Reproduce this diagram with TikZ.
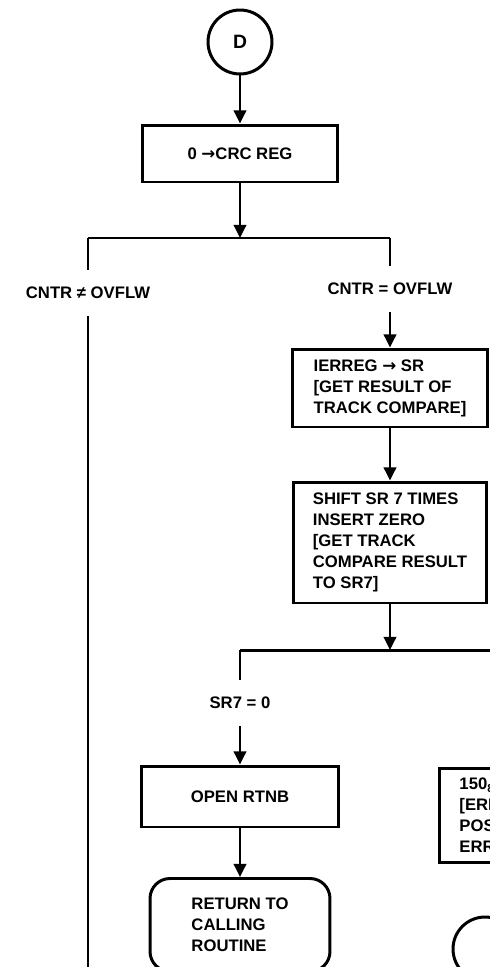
\documentclass[tikz,border=0pt]{standalone}
\usepackage{fontspec}
\setmainfont{Liberation Sans}
\newfontfamily\arrowfont{DejaVu Sans}
\usepackage{tikz}
\usetikzlibrary{arrows.meta,positioning}

\begin{document}
\begin{tikzpicture}[x=0.02cm, y=-0.02cm, line width=1.7pt,
  every node/.style={font=\fontsize{9.5}{12}\selectfont\bfseries},
  box/.style={draw, rectangle, align=left},
  term/.style={draw, rectangle, rounded corners=0.4cm, align=left},
  conn/.style={draw, circle, minimum size=1.28cm, inner sep=0pt},
  lbl/.style={inner xsep=2pt, inner ysep=0.32cm},
  flow/.style={-{Triangle[length=7.5pt, width=7pt]}}]
  \useasboundingbox (0,0) rectangle (490,967);
  \clip (0,0) rectangle (490,967);
  \node[conn, font=\fontsize{11}{13}\selectfont\bfseries] (d) at (240,42) {D};
  \node[box, minimum width=3.92cm, minimum height=1.14cm] (crc) at (240,153.5)
    {0 {\arrowfont →}CRC REG};
  \coordinate (br1) at (240,238);
  \coordinate (br1l) at (88,238);
  \coordinate (br1r) at (390,238);
  \node[lbl] (cne) at (88,293) {CNTR ≠ OVFLW};
  \node[lbl] (ceq) at (390,289) {CNTR = OVFLW};
  \coordinate (lout) at (88,990);
  \node[box, minimum width=3.92cm, minimum height=1.56cm] (erreg) at (390,388)
    {IERREG {\arrowfont →} SR\\{[}GET RESULT OF\\TRACK COMPARE{]}};
  \node[box, minimum width=3.88cm, minimum height=2.42cm] (shift) at (390,542.5)
    {SHIFT SR 7 TIMES\\INSERT ZERO\\{[}GET TRACK\\COMPARE RESULT\\TO SR7{]}};
  \coordinate (br2) at (390,650);
  \coordinate (br2l) at (240,650);
  \coordinate (br2r) at (500,650);
  \node[lbl] (sr7) at (240,703) {SR7 = 0};
  \node[box, minimum width=3.94cm, minimum height=1.22cm] (rtnb) at (240,796.5) {OPEN RTNB};
  \node[term, anchor=north, minimum width=3.6cm, minimum height=1.86cm] (ret) at (240,877)
    {RETURN TO\\CALLING\\ROUTINE};
  \node[box, anchor=north west, minimum width=4cm, minimum height=1.88cm,
    text width=3.2cm, inner xsep=0.38cm] (errpos) at (438,767)
    {150\textsubscript{8}\\{[}ERI\\POSI\\ERR};
  \node[conn] (cont) at (485,949) {};
  % Arrows
  \draw[flow] (d) -- (crc);
  \draw[flow] (crc) -- (br1);
  \draw[flow] (ceq.south) -- (erreg.north);
  \draw[flow] (erreg) -- (shift);
  \draw[flow] (shift) -- (br2);
  \draw[flow] (sr7.south) -- (rtnb.north);
  \draw[flow] (rtnb) -- (ret);
  % Branches
  \draw (br1l) -- (br1r);
  \draw (br1l) -- (cne.north);
  \draw (cne.south) -- (lout);
  \draw (br1r) -- (ceq.north);
  \draw (br2l) -- (br2r);
  \draw (br2l) -- (sr7.north);
\end{tikzpicture}
\end{document}
